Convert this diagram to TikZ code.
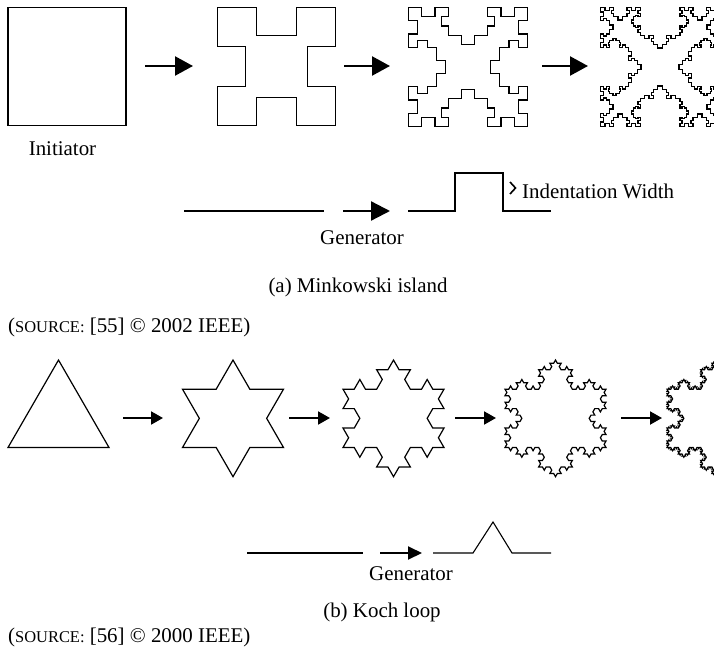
\documentclass[tikz,border=0pt]{standalone}
\usepackage{fontspec}
\setmainfont{Liberation Serif}
\usetikzlibrary{arrows.meta}

% ---------- turtle helpers (image coordinates, y downward, in bp) ----------
\newcommand\tgo[1]{%
  \pgfmathsetmacro\tnx{\tcx+(#1)*cos(\thd)}%
  \pgfmathsetmacro\tny{\tcy+(#1)*sin(\thd)}%
  \xdef\tcx{\tnx}\xdef\tcy{\tny}%
  \pgfpathlineto{\pgfpoint{\tcx bp}{-\tcy bp}}}
\newcommand\tturn[1]{\pgfmathsetmacro\tnh{\thd+(#1)}\xdef\thd{\tnh}}
\newcommand\tstart[3]{\xdef\tcx{#1}\xdef\tcy{#2}\xdef\thd{#3}%
  \pgfpathmoveto{\pgfpoint{#1bp}{-#2bp}}}

\def\mdepth{0.235}
\newcommand\minkseg[2]{%
  \ifnum#1=0 \tgo{#2}\else
  \begingroup
  \edef\mlen{#2}%
  \pgfmathsetmacro\mla{\mlen/3}\pgfmathsetmacro\mlb{\mlen*\mdepth}%
  \edef\mlev{\the\numexpr#1-1\relax}%
  \minkseg{\mlev}{\mla}\tturn{90}\minkseg{\mlev}{\mlb}\tturn{-90}%
  \minkseg{\mlev}{\mla}\tturn{-90}\minkseg{\mlev}{\mlb}\tturn{90}%
  \minkseg{\mlev}{\mla}%
  \endgroup\fi}
\newcommand\kochseg[2]{%
  \ifnum#1=0 \tgo{#2}\else
  \begingroup
  \edef\klen{#2}%
  \pgfmathsetmacro\kla{\klen/3}%
  \edef\klev{\the\numexpr#1-1\relax}%
  \kochseg{\klev}{\kla}\tturn{-60}\kochseg{\klev}{\kla}\tturn{120}%
  \kochseg{\klev}{\kla}\tturn{-60}\kochseg{\klev}{\kla}%
  \endgroup\fi}
% level, x0 (left), y0 (top), side
\newcommand\minkshape[4]{%
  \tstart{#2}{#3}{0}%
  \minkseg{#1}{#4}\tturn{90}\minkseg{#1}{#4}\tturn{90}%
  \minkseg{#1}{#4}\tturn{90}\minkseg{#1}{#4}%
  \pgfpathclose\pgfusepath{stroke}}
% level, x of base-left corner, y of base, side
\newcommand\kochshape[4]{%
  \tstart{#2}{#3}{300}%
  \kochseg{#1}{#4}\tturn{120}\kochseg{#1}{#4}\tturn{120}\kochseg{#1}{#4}%
  \pgfpathclose\pgfusepath{stroke}}

\newcommand\smc[1]{{\fontsize{16.5}{17}\selectfont #1}}

\tikzset{
  lbl/.style={font=\fontsize{21}{25}\selectfont, inner sep=0pt},
  bigarrow/.style={line width=2.3bp, -{Triangle[length=18bp,width=19bp]}},
  smallarrow/.style={line width=2bp, -{Triangle[length=12bp,width=13bp]}},
  genarrowA/.style={line width=2.3bp, -{Triangle[length=19bp,width=19bp]}},
  genarrowB/.style={line width=2bp, -{Triangle[length=14bp,width=13bp]}},
  genlineA/.style={line width=2.3bp},
  genlineB/.style={line width=1.1bp},
}

\begin{document}
\begin{tikzpicture}[x=1bp, y=-1bp]
\useasboundingbox (0,0) rectangle (714,648);
\clip (0,0) rectangle (714,648);

% ================= (a) Minkowski island =================
\begin{scope}
\pgfsetlinewidth{1.3bp}
\pgfsetmiterjoin
\minkshape{0}{8}{7.5}{118}
\minkshape{1}{217.5}{7.5}{118}
\minkshape{2}{408.5}{7.5}{119}
\minkshape{3}{600.5}{7.5}{119}
\end{scope}

\coordinate (ma1s) at (145,66);  \coordinate (ma1e) at (193,66);
\coordinate (ma2s) at (344,66);  \coordinate (ma2e) at (390,66);
\coordinate (ma3s) at (542,66);  \coordinate (ma3e) at (588,66);
\draw[bigarrow] (ma1s) -- (ma1e);
\draw[bigarrow] (ma2s) -- (ma2e);
\draw[bigarrow] (ma3s) -- (ma3e);

\node[lbl] (init) at (62.5,149) {Initiator};

% generator
\coordinate (mg1) at (184,211); \coordinate (mg2) at (324,211);
\draw[genlineA] (mg1) -- (mg2);
\coordinate (mga) at (343,211); \coordinate (mgb) at (390,211);
\draw[genarrowA] (mga) -- (mgb);
\coordinate (mh1) at (408,211); \coordinate (mh2) at (455,211);
\coordinate (mh3) at (455,173); \coordinate (mh4) at (503,173);
\coordinate (mh5) at (503,211); \coordinate (mh6) at (551,211);
\draw[genlineA] (mh1) -- (mh2) -- (mh3) -- (mh4) -- (mh5) -- (mh6);
\coordinate (ch1) at (510,182); \coordinate (ch2) at (515.5,188); \coordinate (ch3) at (510,194);
\draw[line width=1.6bp] (ch1) -- (ch2) -- (ch3);
\node[lbl, anchor=west] (indw) at (522,191) {Indentation Width};
\node[lbl] (gena) at (362,238) {Generator};
\node[lbl] (capa) at (358,287) {(a) Minkowski island};
\node[lbl, anchor=west] (srca) at (8,327) {(\smc{SOURCE:} [55] © 2002 IEEE)};

% ================= (b) Koch loop =================
\begin{scope}
\pgfsetlinewidth{1.2bp}
\pgfsetmiterjoin
\kochshape{0}{8}{447.5}{101}
\kochshape{1}{182.5}{447.5}{101}
\kochshape{2}{343}{447.5}{101}
\kochshape{3}{505}{447.5}{101}
\kochshape{4}{667}{447.5}{101}
\end{scope}

\coordinate (kb1s) at (123,418); \coordinate (kb1e) at (163,418);
\coordinate (kb2s) at (289,418); \coordinate (kb2e) at (330,418);
\coordinate (kb3s) at (455,418); \coordinate (kb3e) at (496,418);
\coordinate (kb4s) at (621,418); \coordinate (kb4e) at (662,418);
\draw[smallarrow] (kb1s) -- (kb1e);
\draw[smallarrow] (kb2s) -- (kb2e);
\draw[smallarrow] (kb3s) -- (kb3e);
\draw[smallarrow] (kb4s) -- (kb4e);

% generator
\coordinate (kg1) at (247,553); \coordinate (kg2) at (363,553);
\draw[genlineB] (kg1) -- (kg2);
\coordinate (kga) at (380,553); \coordinate (kgb) at (422,553);
\draw[genarrowB] (kga) -- (kgb);
\coordinate (kh1) at (433,553); \coordinate (kh2) at (473,553);
\coordinate (kh3) at (493,522); \coordinate (kh4) at (512,553);
\coordinate (kh5) at (551,553);
\draw[genlineB] (kh1) -- (kh2) -- (kh3) -- (kh4) -- (kh5);
\node[lbl] (genb) at (411,574) {Generator};
\node[lbl] (capb) at (382,612) {(b) Koch loop};
\node[lbl, anchor=west] (srcb) at (8,637) {(\smc{SOURCE:} [56] © 2000 IEEE)};
\end{tikzpicture}
\end{document}
